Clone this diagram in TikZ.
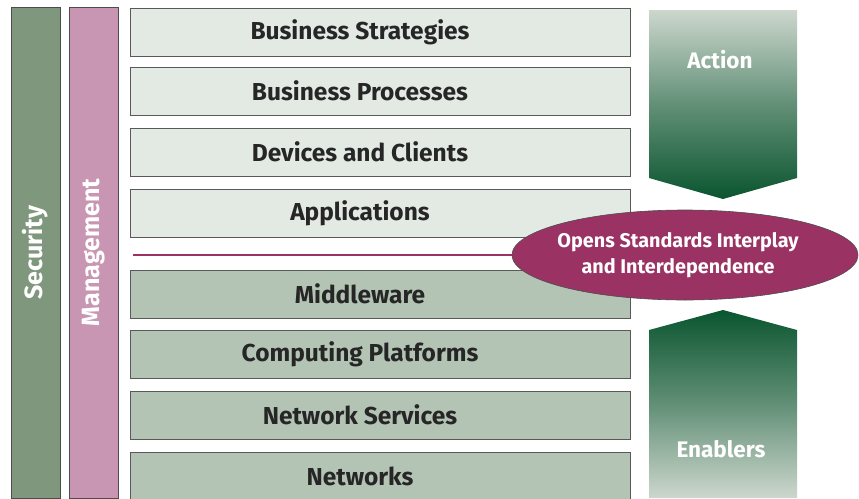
\documentclass[tikz,border=0pt]{standalone}
\usepackage{fontspec}
\setmainfont{Fira Sans}
\usetikzlibrary{shapes.geometric}

\definecolor{secgreen}{HTML}{7F977D}
\definecolor{mgmtpink}{HTML}{C896B2}
\definecolor{layerlight}{HTML}{E3EAE4}
\definecolor{layerdark}{HTML}{B3C4B4}
\definecolor{plum}{HTML}{9A3363}
\definecolor{arrowdark}{HTML}{0A5530}
\definecolor{arrowlight}{HTML}{CDD7CD}

\begin{document}
\begin{tikzpicture}[x=1pt, y=-1pt,
        bar/.style={draw=black!70, line width=0.7pt, minimum width=49pt, minimum height=491pt, inner sep=0pt,
            font=\fontsize{25}{30}\selectfont\bfseries, text=white},
        layertext/.style={xshift=-20pt, text=black!85, font=\fontsize{24.5}{29}\selectfont\bfseries},
        layer/.style={draw=black!65, line width=0.8pt, minimum width=500pt, minimum height=48pt, inner sep=0pt,
            label={[layertext]center:#1}},
        upper/.style={layer=#1, fill=layerlight},
        lower/.style={layer=#1, fill=layerdark},
        flowtext/.style={text=white, font=\fontsize{22.5}{27}\selectfont\bfseries}]
        \useasboundingbox (0,0) rectangle (859,498);

        % side bars
        \node[bar, fill=secgreen] (sec) at (35.5, 252.5) {\rotatebox{90}{Security}};
        \node[bar, fill=mgmtpink] (mgmt) at (94, 252.5) {\rotatebox{90}{Management}};

        % layers
        \node[upper=Business Strategies] (strat) at (380, 32) {};
        \node[upper=Business Processes] (proc) at (380, 91) {};
        \node[upper=Devices and Clients] (dev) at (380, 152) {};
        \node[upper=Applications] (apps) at (380, 213) {};
        \node[lower=Middleware] (mid) at (380, 294) {};
        \node[lower=Computing Platforms] (comp) at (380, 354) {};
        \node[lower=Network Services] (netsrv) at (380, 415) {};
        \node[lower=Networks] (net) at (380, 476) {};

        % action / enablers
        \shade[top color=arrowlight, bottom color=arrowdark, middle color=arrowdark!55!arrowlight]
            (649, 10) -- (797, 10) -- (797, 178) -- (723, 199) -- (649, 178) -- cycle;
        \shade[top color=arrowdark, bottom color=arrowlight, middle color=arrowdark!55!arrowlight]
            (649, 330) -- (723, 310) -- (797, 330) -- (797, 498) -- (649, 498) -- cycle;
        \node[flowtext] (action) at (720, 60) {Action};
        \node[flowtext] (enablers) at (721, 449) {Enablers};

        % open standards
        \coordinate (linestart) at (133, 255);
        \node[ellipse, draw=black!70, line width=0.6pt, fill=plum, minimum width=346pt, minimum height=90pt,
              inner sep=0pt] (open) at (685, 255) {};
        \node[text=white, align=center, font=\fontsize{19.8}{26}\selectfont\bfseries] (opentext) at (678, 255)
            {Opens Standards Interplay\\and Interdependence};
        \draw[plum, line width=2.5pt] (linestart) -- (open.west);
    \end{tikzpicture}
\end{document}
